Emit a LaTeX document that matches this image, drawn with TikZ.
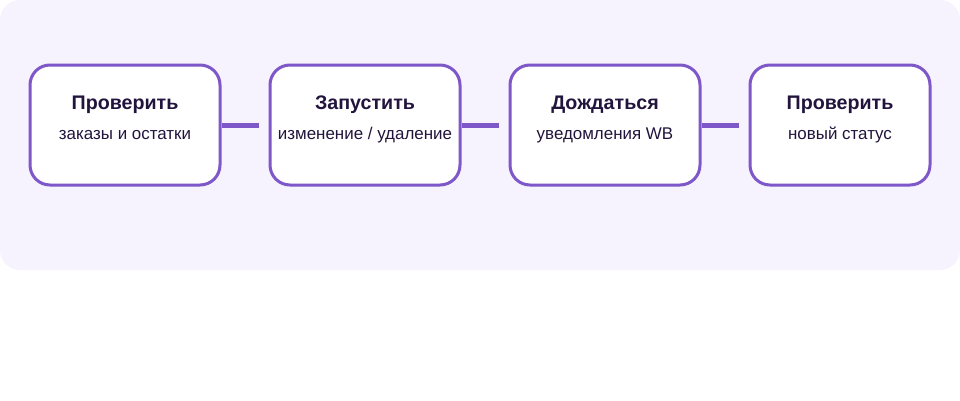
\documentclass[tikz,border=0pt]{standalone}
\usepackage{fontspec}
\setmainfont{Liberation Sans}
\definecolor{panel}{HTML}{F6F2FE}
\definecolor{accent}{HTML}{7E57C8}
\definecolor{ink}{HTML}{22143C}
\begin{document}
\begin{tikzpicture}[x=0.75pt,y=-0.75pt,
  stepbox/.style={draw=accent,fill=white,line width=2.25pt,rounded corners=15pt,
    minimum width=142.5pt,minimum height=90pt,inner sep=0pt},
  ttl/.style={anchor=base,inner sep=0pt,text=ink,font=\bfseries\fontsize{14.75pt}{17pt}\selectfont},
  sub/.style={anchor=base,inner sep=0pt,text=ink,font=\fontsize{12.7pt}{15pt}\selectfont},
  link/.style={draw=accent,line width=3.75pt,shorten >=7.5pt}]
\useasboundingbox (0,0) rectangle (960,400);
\fill[white] (0,0) rectangle (960,400);
\fill[panel,rounded corners=15pt] (0,0) rectangle (960,270);
\node[stepbox] (b1) at (125,125) {};
\node[stepbox] (b2) at (365,125) {};
\node[stepbox] (b3) at (605,125) {};
\node[stepbox,minimum width=135pt] (b4) at (840,125) {};
\draw[link] (b1.east) -- (b2.west);
\draw[link] (b2.east) -- (b3.west);
\draw[link] (b3.east) -- (b4.west);
\node[ttl] (t1) at (125,109.5) {Проверить};
\node[sub] (s1) at (125,139.5) {заказы и остатки};
\node[ttl] (t2) at (365,109.5) {Запустить};
\node[sub] (s2) at (365,139.5) {изменение / удаление};
\node[ttl] (t3) at (605,109.5) {Дождаться};
\node[sub] (s3) at (605,139.5) {уведомления WB};
\node[ttl] (t4) at (840,109.5) {Проверить};
\node[sub] (s4) at (840,139.5) {новый статус};
\end{tikzpicture}
\end{document}
